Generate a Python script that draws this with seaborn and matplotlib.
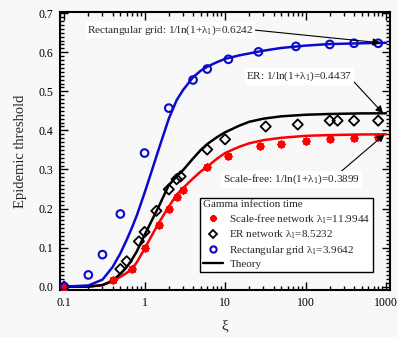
import numpy as np
import pandas as pd
import matplotlib
matplotlib.use("Agg")
import matplotlib.pyplot as plt
from matplotlib.ticker import MultipleLocator
from matplotlib.lines import Line2D
import seaborn as sns

# ---------------- data ----------------
xi_sf = [0.1, 0.4, 0.7, 1.0, 1.5, 2.0, 2.5, 3.0, 6, 11, 27, 50, 100, 200, 400, 800]
thr_sf = [0.0, 0.016, 0.046, 0.099, 0.159, 0.200, 0.230, 0.247, 0.305, 0.334,
          0.360, 0.366, 0.372, 0.378, 0.380, 0.382]

xi_er = [0.1, 0.5, 0.6, 0.85, 1.0, 1.4, 2.0, 2.5, 2.8, 6, 10, 32, 80, 200, 250, 400, 800]
thr_er = [0.0, 0.045, 0.065, 0.116, 0.140, 0.194, 0.249, 0.275, 0.282, 0.351,
          0.377, 0.410, 0.415, 0.425, 0.425, 0.425, 0.425]

xi_grid = [0.1, 0.2, 0.3, 0.5, 1, 2, 4, 6, 11, 26, 76, 200, 400, 800]
thr_grid = [0.0, 0.030, 0.082, 0.186, 0.342, 0.457, 0.529, 0.557, 0.582, 0.601,
            0.615, 0.620, 0.623, 0.623]

xi_theory = [0.1, 0.2, 0.3, 0.4, 0.5, 0.6, 0.7, 0.8, 1.0, 1.2, 1.5, 2, 2.5, 3, 4, 5,
             6, 8, 10, 15, 20, 30, 50, 100, 200, 500, 1000]
theory_grid = [0.0, 0.003, 0.018, 0.05, 0.085, 0.12, 0.152, 0.182, 0.24, 0.29, 0.352,
               0.43, 0.477, 0.503, 0.536, 0.553, 0.563, 0.575, 0.583, 0.592, 0.597,
               0.604, 0.611, 0.617, 0.621, 0.623, 0.6242]
theory_er = [0.0, 0.0, 0.004, 0.015, 0.033, 0.05, 0.07, 0.09, 0.132, 0.165, 0.205,
             0.26, 0.282, 0.298, 0.328, 0.35, 0.365, 0.383, 0.395, 0.412, 0.422,
             0.43, 0.436, 0.44, 0.442, 0.4435, 0.4437]
theory_sf = [0.0, 0.0, 0.004, 0.014, 0.025, 0.035, 0.047, 0.062, 0.097, 0.127, 0.163,
             0.205, 0.235, 0.252, 0.277, 0.295, 0.307, 0.328, 0.342, 0.358, 0.367,
             0.375, 0.381, 0.386, 0.388, 0.3895, 0.3899]

asym_grid, asym_er, asym_sf = 0.6242, 0.4437, 0.3899
lam_sf, lam_er, lam_grid = "11.9944", "8.5232", "3.9642"

# ---------------- style ----------------
sns.set_style("ticks")
plt.rcParams["font.family"] = ["Liberation Serif", "DejaVu Serif"]
plt.rcParams["mathtext.fontset"] = "custom"
plt.rcParams["mathtext.rm"] = "Liberation Serif"
plt.rcParams["mathtext.it"] = "Liberation Serif:italic"
plt.rcParams["mathtext.default"] = "regular"

BG = "#f8f8f8"
BLUE = "#0a0acc"
RED = "#ff0000"

fig = plt.figure(figsize=(3.98, 3.37), dpi=100, facecolor=BG)
ax = fig.add_axes([0.151, 0.139, 0.829, 0.825])
ax.set_facecolor(BG)

# theory lines
n = len(xi_theory)
dth = pd.DataFrame({"xi": xi_theory * 3,
                    "thr": theory_sf + theory_er + theory_grid,
                    "net": ["sf"] * n + ["er"] * n + ["grid"] * n})
sns.lineplot(data=dth, x="xi", y="thr", hue="net",
             palette={"sf": RED, "er": "black", "grid": BLUE},
             linewidth=1.8, legend=False, ax=ax, zorder=2)

# markers
sns.scatterplot(x=xi_sf, y=thr_sf, marker=(8, 2, 0), s=20, color=RED,
                edgecolor=RED, linewidth=1.6, ax=ax, zorder=3, legend=False)
sns.scatterplot(x=xi_er, y=thr_er, marker="D", s=27, facecolor="none",
                edgecolor="black", linewidth=1.3, ax=ax, zorder=3, legend=False)
sns.scatterplot(x=xi_grid, y=thr_grid, marker="o", s=30, facecolor="none",
                edgecolor=BLUE, linewidth=1.5, ax=ax, zorder=3, legend=False)

ax.set_xscale("log")
ax.set_xlim(0.0892, 1122)
ax.set_ylim(-0.009, 0.7027)

ax.set_xticks([0.1, 1, 10, 100, 1000])
ax.set_xticklabels(["0.1", "1", "10", "100", "1000"])
ax.set_yticks(np.arange(0, 0.71, 0.1))
ax.set_yticklabels([f"{v:.1f}" for v in np.arange(0, 0.71, 0.1)])
ax.yaxis.set_minor_locator(MultipleLocator(0.01))
ax.tick_params(which="both", direction="in", top=True, right=True, labelsize=8.5,
               width=1.0, colors="black")
ax.tick_params(which="major", length=6, pad=5)
ax.tick_params(which="minor", length=3)
for s in ax.spines.values():
    s.set_linewidth(1.5)
    s.set_color("black")

ax.set_xlabel("ξ", fontsize=11, labelpad=7.5)
ax.set_ylabel("Epidemic threshold", fontsize=10.5, labelpad=8)

# annotations
bbox = dict(boxstyle="square,pad=0.15", fc="white", ec="none")
ap = dict(arrowstyle="-|>", color="black", lw=0.8, mutation_scale=11, shrinkA=0, shrinkB=0)
fs_ann = 8.1
ax.annotate("Rectangular grid: 1/ln(1+λ$_1$)=" + f"{asym_grid:.4f}",
            xy=(850, asym_grid), xytext=(2.1, 0.657), fontsize=fs_ann,
            ha="center", va="center", bbox=bbox,
            arrowprops=dict(ap, relpos=(1.0, 0.5)))
ax.annotate("ER: 1/ln(1+λ$_1$)=" + f"{asym_er:.4f}",
            xy=(920, asym_er), xytext=(84, 0.539), fontsize=fs_ann,
            ha="center", va="center", bbox=bbox,
            arrowprops=dict(ap, relpos=(1.0, 0.2)))
ax.annotate("Scale-free: 1/ln(1+λ$_1$)=" + f"{asym_sf:.4f}",
            xy=(960, asym_sf), xytext=(67, 0.274), fontsize=fs_ann,
            ha="center", va="center", bbox=bbox,
            arrowprops=dict(ap, relpos=(0.85, 1.0)))

# legend
handles = [
    Line2D([], [], linestyle="none", marker=(8, 2, 0), markersize=4.5, color=RED, markeredgewidth=1.6),
    Line2D([], [], linestyle="none", marker="D", markersize=4.5, markerfacecolor="none",
           markeredgecolor="black", markeredgewidth=1.3),
    Line2D([], [], linestyle="none", marker="o", markersize=4.5, markerfacecolor="none",
           markeredgecolor=BLUE, markeredgewidth=1.5),
    Line2D([], [], color="black", linewidth=1.7),
]
labels = [f"Scale-free network λ$_1$={lam_sf}",
          f"ER network λ$_1$={lam_er}",
          f"Rectangular grid λ$_1$={lam_grid}",
          "Theory"]
leg = ax.legend(handles, labels, title="Gamma infection time", loc="lower left",
                bbox_to_anchor=(0.424, 0.065), borderaxespad=0, fontsize=8,
                title_fontsize=8, frameon=True, fancybox=False, framealpha=1,
                facecolor="white", edgecolor="black", handlelength=1.8,
                handletextpad=0.6, labelspacing=0.25, borderpad=0.25)
leg.get_frame().set_linewidth(1.0)
leg._legend_box.align = "left"

fig.savefig("out.png", dpi=100, facecolor=BG)
